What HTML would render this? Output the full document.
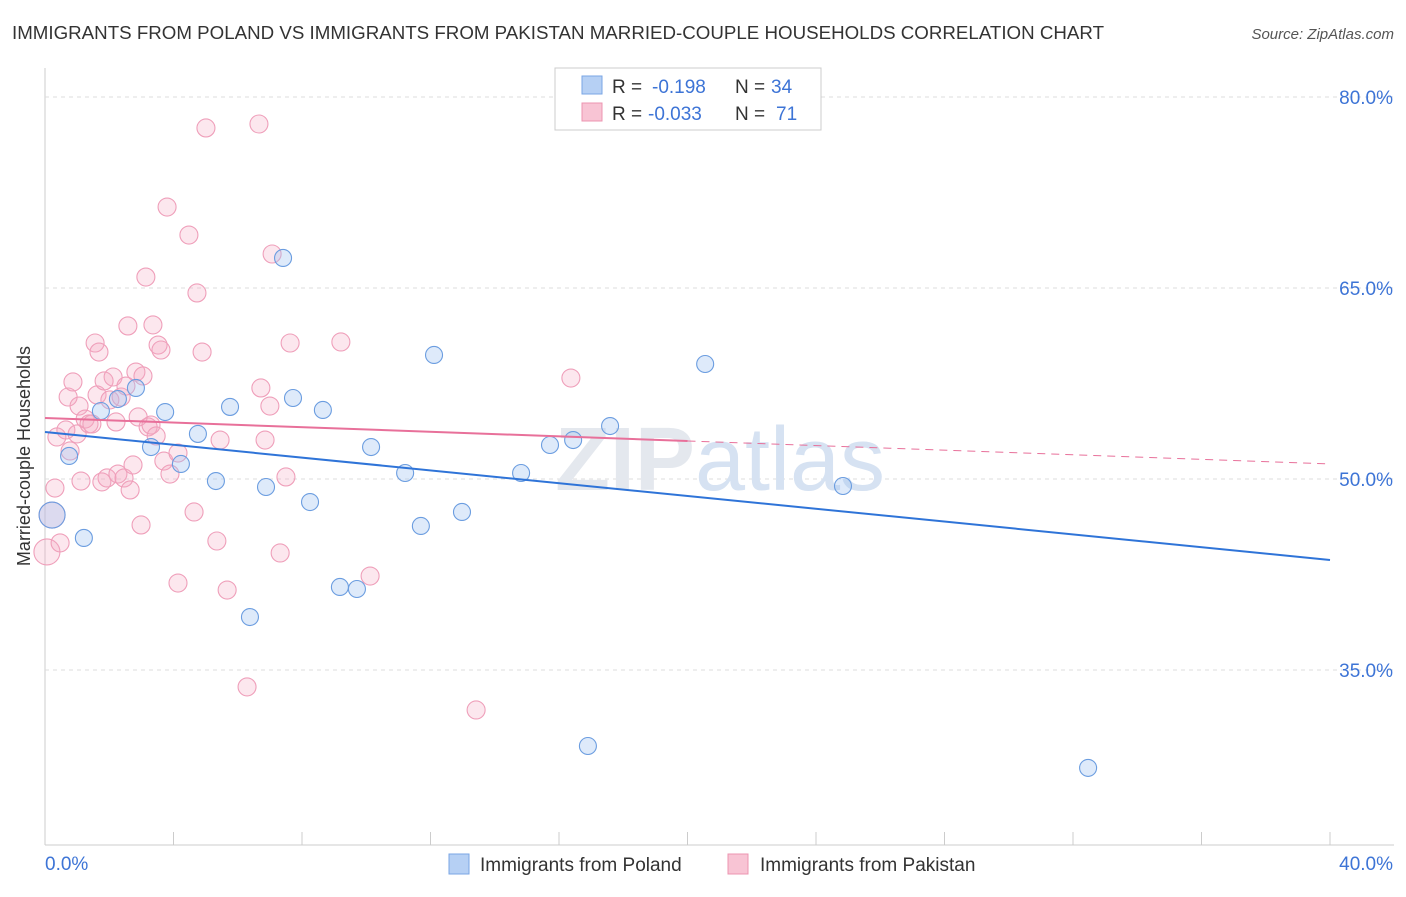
<!DOCTYPE html>
<html><head><meta charset="utf-8"><style>
body{margin:0;background:#fff;font-family:"Liberation Sans",sans-serif;}
svg text{font-family:"Liberation Sans",sans-serif;}
</style></head><body>
<svg id="chart" width="1406" height="892">
<text x="12" y="39" font-size="18" fill="#333" textLength="1092" lengthAdjust="spacingAndGlyphs">IMMIGRANTS FROM POLAND VS IMMIGRANTS FROM PAKISTAN MARRIED-COUPLE HOUSEHOLDS CORRELATION CHART</text>
<text x="1394" y="39" font-size="15" fill="#555" text-anchor="end" font-style="italic">Source: ZipAtlas.com</text>
<text x="30" y="456" font-size="18" fill="#333" text-anchor="middle" transform="rotate(-90 30 456)">Married-couple Households</text>
<g id="grid"></g>
<text x="720" y="490" font-size="90" fill="#e4e8ee" text-anchor="middle" font-weight="bold" font-family="Liberation Serif">ZIP<tspan font-family="Liberation Sans" font-weight="normal" fill="#d6e2f2">atlas</tspan></text>
<g id="marks"></g>
<g>
<rect x="555" y="68" width="266" height="62" fill="#fff" stroke="#ccc"/>
<rect x="582" y="76" width="20" height="18" fill="#b6d0f4" stroke="#7aa6e4"/>
<rect x="582" y="103" width="20" height="18" fill="#f8c4d4" stroke="#ec94b0"/>
<text x="612" y="93" font-size="19" fill="#333">R =</text>
<text x="652" y="93" font-size="19" fill="#3d74d6">-0.198</text>
<text x="735" y="93" font-size="19" fill="#333">N =</text>
<text x="771" y="93" font-size="19" fill="#3d74d6">34</text>
<text x="612" y="120" font-size="19" fill="#333">R =</text>
<text x="648" y="120" font-size="19" fill="#3d74d6">-0.033</text>
<text x="735" y="120" font-size="19" fill="#333">N =</text>
<text x="776" y="120" font-size="19" fill="#3d74d6">71</text>
</g>
<g>
<rect x="449" y="854" width="20" height="20" fill="#b6d0f4" stroke="#7aa6e4"/>
<text x="480" y="871" font-size="19" fill="#333">Immigrants from Poland</text>
<rect x="728" y="854" width="20" height="20" fill="#f8c4d4" stroke="#ec94b0"/>
<text x="760" y="871" font-size="19" fill="#333">Immigrants from Pakistan</text>
</g>
</svg>
<script>
const xTicks=[0,40];
const yTicks=[35,50,65,80];
const polandX=[0.22,0.75,1.21,1.74,2.27,2.83,3.30,3.74,4.23,4.76,5.32,5.76,6.38,6.88,7.41,7.72,8.25,8.65,9.18,9.71,10.15,11.21,11.70,12.11,12.98,14.82,15.72,16.44,16.90,17.59,20.55,24.84,32.47];
const polandY=[47.17,51.81,45.37,55.34,56.28,57.15,52.51,55.26,51.18,53.54,49.84,55.66,39.16,49.37,67.36,56.36,48.19,55.42,41.52,41.36,52.51,50.47,46.31,59.74,47.41,50.47,52.67,53.06,29.03,54.16,59.03,49.45,27.31];
const pakX=[0.06,0.22,0.31,0.37,0.47,0.65,0.72,0.78,0.87,1.00,1.06,1.12,1.25,1.37,1.46,1.56,1.62,1.68,1.77,1.84,1.93,2.02,2.12,2.21,2.27,2.37,2.46,2.52,2.58,2.65,2.74,2.83,2.90,2.99,3.05,3.14,3.21,3.30,3.36,3.46,3.52,3.61,3.70,3.80,3.89,4.14,4.14,4.48,4.64,4.73,4.89,5.01,5.35,5.45,5.67,6.29,6.66,6.72,6.85,7.00,7.07,7.32,7.50,7.63,9.21,10.12,13.42,16.37];
const pakY=[44.27,47.17,49.29,53.30,44.98,53.85,56.44,52.20,57.62,53.54,55.73,49.84,54.71,54.32,54.32,60.68,56.60,59.97,49.77,57.70,50.08,56.21,58.01,54.48,50.39,56.44,50.08,57.30,62.02,49.14,51.10,58.40,54.87,46.39,58.09,65.86,54.09,54.24,62.10,53.38,60.52,60.13,51.41,71.36,50.39,41.83,52.04,69.16,47.41,64.61,59.97,77.57,45.13,53.06,41.28,33.67,77.88,57.15,53.06,55.73,67.67,44.19,50.16,60.68,60.76,42.38,31.86,57.93];
const polandFit=[53.69,43.64];
const pakFit=[54.79,51.18];
const xs=v=>45+v/40*1285;
const ys=v=>97+(80-v)*12.733;
const NS="http://www.w3.org/2000/svg";
const grid=document.getElementById('grid'),marks=document.getElementById('marks'),svg=document.getElementById('chart');
function mk(tag,at,parent){const e=document.createElementNS(NS,tag);for(const k in at)e.setAttribute(k,at[k]);parent.appendChild(e);return e;}
let ax=mk('line',{x1:45,y1:68,x2:45,y2:845,stroke:'#ccc'},grid);


let bx=mk('line',{x1:45,y1:845,x2:1394,y2:845,stroke:'#ccc'},grid);


for(let i=0;i<=10;i++){let t=mk('line',{x1:xs(i*4),y1:832,x2:xs(i*4),y2:845,stroke:'#ccc'},grid);

}
yTicks.forEach(v=>{let g=mk('line',{x1:45,y1:ys(v),x2:1394,y2:ys(v),stroke:'#ddd','stroke-dasharray':'4,4'},grid);


let t=mk('text',{x:1393,y:ys(v)+7,'font-size':19,fill:'#3d74d6','text-anchor':'end'},svg);t.textContent=v.toFixed(1)+'%';

});
xTicks.forEach((v,i)=>{let t=mk('text',{x:i?1393:45,y:870,'font-size':19,fill:'#3d74d6','text-anchor':i?'end':'start'},svg);t.textContent=v.toFixed(1)+'%';

});
pakX.forEach((x,i)=>{const r=(i<2)?13:9;let c=mk('circle',{cx:xs(x),cy:ys(pakY[i]),r:r,fill:'rgba(244,170,195,0.28)',stroke:'#ef9fba','stroke-width':1.1},marks);

});
polandX.forEach((x,i)=>{const r=(i==0)?13:8.5;let c=mk('circle',{cx:xs(x),cy:ys(polandY[i]),r:r,fill:'rgba(160,195,240,0.35)',stroke:'#6b9de0','stroke-width':1.1},marks);

});
let l1=mk('line',{x1:xs(0),y1:ys(polandFit[0]),x2:xs(40),y2:ys(polandFit[1]),stroke:'#2f74d8','stroke-width':2},marks);


const pm=(pakFit[0]+pakFit[1])/2;
let l2=mk('line',{x1:xs(0),y1:ys(pakFit[0]),x2:xs(20),y2:ys(pm),stroke:'#e8709a','stroke-width':2},marks);


let l3=mk('line',{x1:xs(20),y1:ys(pm),x2:xs(40),y2:ys(pakFit[1]),stroke:'#e8709a','stroke-width':1,'stroke-dasharray':'8,6'},marks);


</script>
</body></html>
